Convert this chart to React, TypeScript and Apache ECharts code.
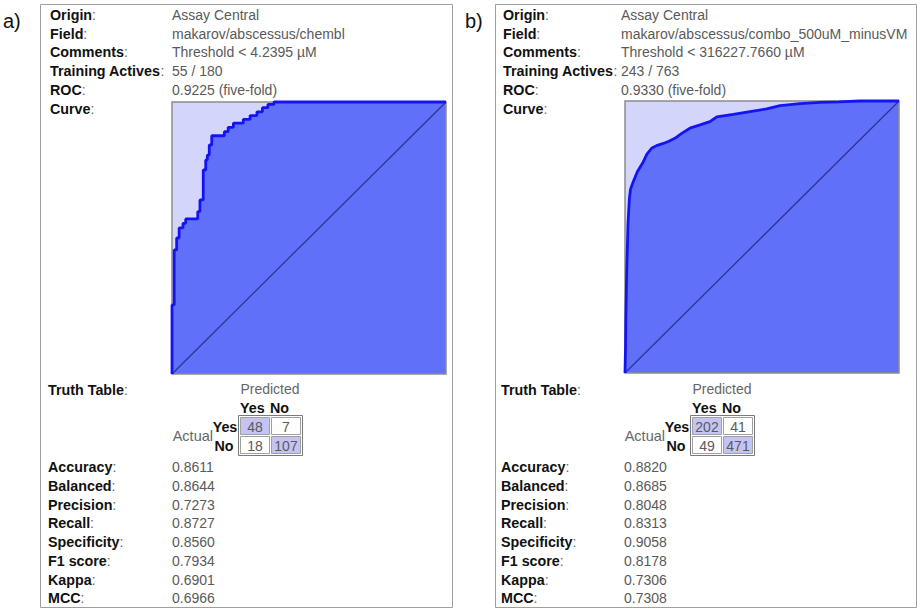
import React, { useEffect, useRef } from "react";
import * as echarts from "echarts";

const panelLetters = ["a)", "b)"];
const infoLabels = ["Origin", "Field", "Comments", "Training Actives", "ROC", "Curve"];
const infoValuesA = ["Assay Central", "makarov/abscessus/chembl", "Threshold < 4.2395 µM", "55 / 180", "0.9225 (five-fold)", ""];
const infoValuesB = ["Assay Central", "makarov/abscessus/combo_500uM_minusVM", "Threshold < 316227.7660 µM", "243 / 763", "0.9330 (five-fold)", ""];
const metricLabels = ["Accuracy", "Balanced", "Precision", "Recall", "Specificity", "F1 score", "Kappa", "MCC"];
const metricsA = ["0.8611", "0.8644", "0.7273", "0.8727", "0.8560", "0.7934", "0.6901", "0.6966"];
const metricsB = ["0.8820", "0.8685", "0.8048", "0.8313", "0.9058", "0.8178", "0.7306", "0.7308"];
const truthA = [[48, 7], [18, 107]];
const truthB = [[202, 41], [49, 471]];
const truthHeaders = ["Yes", "No"];

// ROC curves: [false positive rate, true positive rate]
const rocA = [
  [0, 0], [0, 0.254], [0.008, 0.254], [0.008, 0.456], [0.017, 0.456], [0.017, 0.5], [0.026, 0.5],
  [0.026, 0.537], [0.04, 0.537], [0.04, 0.554], [0.05, 0.554], [0.05, 0.57], [0.094, 0.57],
  [0.094, 0.597], [0.102, 0.597], [0.102, 0.64], [0.114, 0.64], [0.114, 0.75], [0.123, 0.75],
  [0.123, 0.787], [0.129, 0.787], [0.129, 0.805], [0.136, 0.805], [0.136, 0.842], [0.145, 0.842],
  [0.145, 0.876], [0.191, 0.876], [0.191, 0.891], [0.205, 0.891], [0.205, 0.907], [0.224, 0.907],
  [0.224, 0.922], [0.26, 0.922], [0.26, 0.936], [0.285, 0.936], [0.285, 0.95], [0.31, 0.95],
  [0.31, 0.964], [0.33, 0.964], [0.33, 0.979], [0.35, 0.979], [0.35, 0.991], [0.372, 0.991],
  [0.372, 1], [1, 1],
];
const rocB = [
  [0, 0], [0.002, 0.1], [0.003, 0.195], [0.006, 0.367], [0.011, 0.55], [0.016, 0.64], [0.02, 0.675],
  [0.03, 0.703], [0.045, 0.74], [0.067, 0.777], [0.08, 0.805], [0.097, 0.826], [0.115, 0.836],
  [0.14, 0.844], [0.16, 0.852], [0.182, 0.863], [0.207, 0.881], [0.237, 0.9], [0.274, 0.912],
  [0.31, 0.924], [0.335, 0.942], [0.395, 0.951], [0.456, 0.961], [0.517, 0.971], [0.566, 0.983],
  [0.639, 0.99], [0.712, 0.995], [0.78, 0.997], [0.858, 1], [1, 1],
];
const diagonal = [[0, 0], [1, 1]];

const FONT = '"Liberation Sans", Arial, Helvetica, sans-serif';
const LABEL_FONT = `bold 14.3px ${FONT}`;
const VALUE_FONT = `14px ${FONT}`;
const VALUE_COLOR = "#5a5a5a";
const LABEL_COLOR = "#111";
const FILL_BLUE = "#6070f8";
const LIGHT = "#d4d5fa";
const CURVE = "#1414f2";
const DIAG = "#2b3794";
const CELL_HI = "#c3c4f4";

const panels = [
  {
    letter: panelLetters[0], letterX: 3, x0: 40, x1: 452, labelX: 50, valueX: 172, metricX: 172,
    grid: { left: 172, top: 102, width: 274, height: 272 },
    tableX: 238, tableY: 415, values: infoValuesA, metrics: metricsA, truth: truthA, roc: rocA,
  },
  {
    letter: panelLetters[1], letterX: 465, x0: 495, x1: 916, labelX: 503, valueX: 621, metricX: 624,
    grid: { left: 625, top: 101, width: 274, height: 272 },
    tableX: 690, tableY: 415, values: infoValuesB, metrics: metricsB, truth: truthB, roc: rocB,
  },
];

function labelText(label: string, x: number, y: number) {
  return {
    type: "text", z: 10,
    style: {
      text: `{b|${label}}{c|:}`, x, y, verticalAlign: "middle", align: "left",
      rich: {
        b: { font: LABEL_FONT, fill: LABEL_COLOR },
        c: { font: `14px ${FONT}`, fill: "#666" },
      },
    },
  };
}
function plainText(text: string, x: number, y: number, font: string, fill: string, align = "left") {
  return { type: "text", z: 10, style: { text, x, y, font, fill, align, verticalAlign: "middle" } };
}

export default function App() {
  const ref = useRef<HTMLDivElement>(null);
  useEffect(() => {
    if (!ref.current) return;
    const chart = echarts.init(ref.current, undefined, { renderer: "svg" });
    const graphics: any[] = [];
    panels.forEach((p) => {
      graphics.push({
        type: "rect", z: 1,
        shape: { x: p.x0 + 0.5, y: 4.5, width: p.x1 - p.x0, height: 603 },
        style: { fill: "none", stroke: "#a0a0a0", lineWidth: 1 },
      });
      graphics.push(plainText(p.letter, p.letterX, 21, `20px ${FONT}`, "#111"));
      infoLabels.forEach((l, i) => {
        const y = 15 + i * 18.7;
        graphics.push(labelText(l, p.labelX, y));
        if (p.values[i]) graphics.push(plainText(p.values[i], p.valueX, y, VALUE_FONT, VALUE_COLOR));
      });
      // ROC frame on top of the fill
      graphics.push({
        type: "rect", z: 3,
        shape: { x: p.grid.left, y: p.grid.top, width: p.grid.width, height: p.grid.height },
        style: { fill: "none", stroke: "#8c8c8c", lineWidth: 1.5 },
      });
      // Truth table
      graphics.push(labelText("Truth Table", p.labelX - 2, 390));
      const tx = p.tableX, ty = p.tableY;
      graphics.push(plainText("Predicted", tx + 32, 389, `14px ${FONT}`, "#666", "center"));
      graphics.push(plainText(truthHeaders[0], tx + 2, 407.7, LABEL_FONT, LABEL_COLOR));
      graphics.push(plainText(truthHeaders[1], tx + 32, 407.7, LABEL_FONT, LABEL_COLOR));
      graphics.push(plainText("Actual", tx - 25, 436, `14.5px ${FONT}`, "#666", "right"));
      graphics.push(plainText(truthHeaders[0], tx - 13, 426.5, LABEL_FONT, LABEL_COLOR, "center"));
      graphics.push(plainText(truthHeaders[1], tx - 14, 446, LABEL_FONT, LABEL_COLOR, "center"));
      graphics.push({
        type: "rect", z: 5,
        shape: { x: tx + 0.5, y: ty + 0.5, width: 64, height: 40 },
        style: { fill: "#fff", stroke: "#7a7a7a", lineWidth: 1 },
      });
      p.truth.forEach((row, r) => {
        row.forEach((v, c) => {
          const cx = tx + 2.5 + c * 31;
          const cy = ty + 2.5 + r * 19;
          graphics.push({
            type: "rect", z: 6,
            shape: { x: cx, y: cy, width: 29, height: 17 },
            style: { fill: r === c ? CELL_HI : "#fff", stroke: "#a0a0a0", lineWidth: 1 },
          });
          graphics.push(plainText(String(v), cx + 14.5, cy + 9, VALUE_FONT, VALUE_COLOR, "center"));
        });
      });
      metricLabels.forEach((m, i) => {
        const y = 467.3 + i * 18.7;
        graphics.push(labelText(m, p.labelX - 2, y));
        graphics.push(plainText(p.metrics[i], p.metricX, y, VALUE_FONT, VALUE_COLOR));
      });
    });

    const series: any[] = [];
    panels.forEach((p, k) => {
      series.push({
        type: "line", xAxisIndex: k, yAxisIndex: k, data: p.roc, symbol: "none",
        lineStyle: { width: 0 }, areaStyle: { color: FILL_BLUE, opacity: 1 }, z: 2, silent: true,
      });
      series.push({
        type: "line", xAxisIndex: k, yAxisIndex: k, data: diagonal, symbol: "none",
        lineStyle: { color: DIAG, width: 1.3 }, z: 4, silent: true,
      });
      series.push({
        type: "line", xAxisIndex: k, yAxisIndex: k, data: p.roc, symbol: "none", clip: false,
        lineStyle: { color: CURVE, width: 2.8 }, z: 5, silent: true,
      });
    });

    chart.setOption({
      animation: false,
      backgroundColor: "#fff",
      grid: panels.map((p) => ({
        left: p.grid.left, top: p.grid.top, width: p.grid.width, height: p.grid.height,
        show: true, backgroundColor: LIGHT, borderWidth: 0,
      })),
      xAxis: panels.map((_, k) => ({ type: "value", gridIndex: k, min: 0, max: 1, show: false })),
      yAxis: panels.map((_, k) => ({ type: "value", gridIndex: k, min: 0, max: 1, show: false })),
      series,
      graphic: { elements: graphics },
    });
    return () => chart.dispose();
  }, []);
  return <div ref={ref} style={{ position: "absolute", left: 0, top: 0, width: 921, height: 614 }} />;
}
